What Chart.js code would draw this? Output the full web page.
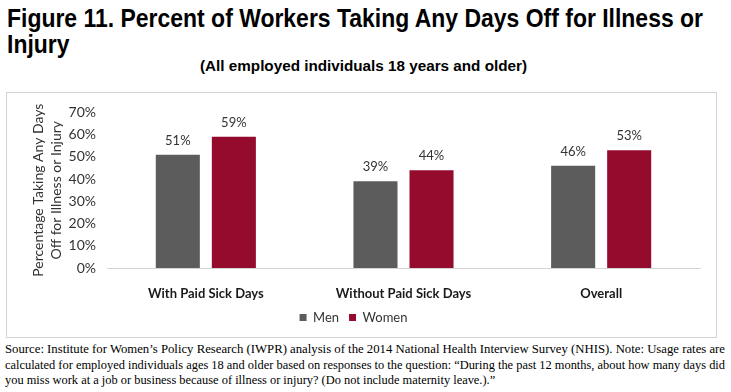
<!DOCTYPE html>
<html lang="en">
<head>
  <meta charset="UTF-8">
  <title>Figure 11</title>
  <style>
body {
  margin: 0;
  width: 731px;
  height: 392px;
  background: #fff;
  position: relative;
  overflow: hidden;
}

/* Heading */
.title {
  position: absolute;
  left: 7px;
  top: 5px;
  font-family: "Liberation Sans", Arial, sans-serif;
  font-weight: bold;
  font-size: 25px;
  line-height: 26px;
  color: #000;
}
.title span {
  display: inline-block;
  white-space: nowrap;
  transform-origin: left top;
}
.subtitle {
  position: absolute;
  left: 200px;
  top: 58px;
  font-family: "Liberation Sans", Arial, sans-serif;
  font-weight: bold;
  font-size: 14px;
  white-space: nowrap;
  transform-origin: left top;
  color: #000;
}

/* Chart box */
.chart-box {
  position: absolute;
  left: 6px;
  top: 92px;
  width: 709px;
  height: 244px;
  border: 1px solid #d0d5d0;
}

/* Source note */
.note {
  position: absolute;
  left: 5px;
  top: 342px;
  width: 720px;
  font-family: "Liberation Serif", "Times New Roman", serif;
  font-size: 12.5px;
  line-height: 15.5px;
  color: #000;
}
.note span {
  display: inline-block;
  white-space: nowrap;
  transform-origin: left top;
}
  </style>
</head>
<body>
  <div class="title">
    <span id="t1">Figure 11. Percent of Workers Taking Any Days Off for Illness or</span><br><span id="t2">Injury</span>
  </div>
  <div class="subtitle" id="sub">(All employed individuals 18 years and older)</div>

  <div class="chart-box">
    <canvas id="chart" width="709" height="244"></canvas>
  </div>

  <div class="note">
    <span id="n1">Source: Institute for Women’s Policy Research (IWPR) analysis of the 2014 National Health Interview Survey (NHIS). Note: Usage rates are</span><br><span id="n2">calculated for employed individuals ages 18 and older based on responses to the question: “During the past 12 months, about how many days did</span><br><span id="n3">you miss work at a job or business because of illness or injury? (Do not include maternity leave.).”</span>
  </div>

  <script src="https://cdn.jsdelivr.net/npm/chart.js"></script>
  <script>
    const categories = ['With Paid Sick Days', 'Without Paid Sick Days', 'Overall'];
    const menValues = [51, 39, 46];
    const womenValues = [59, 44, 53];
    const yTickValues = [0, 10, 20, 30, 40, 50, 60, 70];
    const seriesNames = ['Men', 'Women'];

    // squeeze a line of text to a given width
    function fitWidth(el, target) {
      const w = el.getBoundingClientRect().width;
      const s = target / w;
      el.style.transform = 'scaleX(' + s + ')';
      return s;
    }
    const s1 = fitWidth(document.getElementById('t1'), 696);
    document.getElementById('t2').style.transform = 'scaleX(' + s1 + ')';
    fitWidth(document.getElementById('sub'), 327);
    fitWidth(document.getElementById('n1'), 720);
    const s2 = fitWidth(document.getElementById('n2'), 720);
    document.getElementById('n3').style.transform = 'scaleX(' + s2 + ')';

    const chartFont = 'Lato, "Open Sans", sans-serif';

    // draws the percent labels above each bar
    const valueLabels = {
      id: 'valueLabels',
      afterDatasetsDraw(chart) {
        const ctx = chart.ctx;
        ctx.save();
        ctx.font = '13px ' + chartFont;
        ctx.fillStyle = '#333333';
        ctx.textAlign = 'center';
        ctx.textBaseline = 'middle';
        chart.data.datasets.forEach((ds, i) => {
          chart.getDatasetMeta(i).data.forEach((bar, j) => {
            ctx.fillText(ds.data[j] + '%', bar.x, bar.y - 14);
          });
        });
        ctx.restore();
      }
    };

    new Chart(document.getElementById('chart'), {
      type: 'bar',
      data: {
        labels: categories,
        datasets: [{
          label: seriesNames[0],
          data: menValues,
          backgroundColor: '#5c5c5c'
        }, {
          label: seriesNames[1],
          data: womenValues,
          backgroundColor: '#940b2d'
        }]
      },
      options: {
        responsive: false,
        animation: false,
        categoryPercentage: 0.567,
        barPercentage: 0.786,
        layout: {
          padding: { left: 0, right: 16, top: 17, bottom: 3 }
        },
        plugins: {
          tooltip: { enabled: false },
          legend: {
            position: 'bottom',
            labels: {
              boxWidth: 7,
              boxHeight: 7,
              padding: 10,
              color: '#333333',
              font: { family: chartFont, size: 13 }
            }
          }
        },
        scales: {
          x: {
            grid: { display: false },
            border: { display: true, color: '#d0d5d0', width: 1 },
            ticks: {
              padding: 10,
              color: '#1a1a1a',
              font: { family: chartFont, size: 13, weight: 'bold' }
            },
            afterFit(scale) { scale.height = 33; }
          },
          y: {
            min: 0,
            max: 70,
            grid: { display: false, drawTicks: false },
            border: { display: false },
            afterBuildTicks(scale) {
              scale.ticks = yTickValues.map(v => ({ value: v }));
            },
            ticks: {
              padding: 11,
              color: '#333333',
              font: { family: chartFont, size: 14 },
              callback: v => v + '%'
            },
            title: {
              display: true,
              text: ['Percentage Taking Any Days', 'Off for Illness or Injury'],
              color: '#333333',
              font: { family: chartFont, size: 14, lineHeight: 1.25 },
              padding: { top: 23, bottom: 0 }
            },
            afterFit(scale) { scale.width = 100; }
          }
        }
      },
      plugins: [valueLabels]
    });
  </script>
</body>
</html>
